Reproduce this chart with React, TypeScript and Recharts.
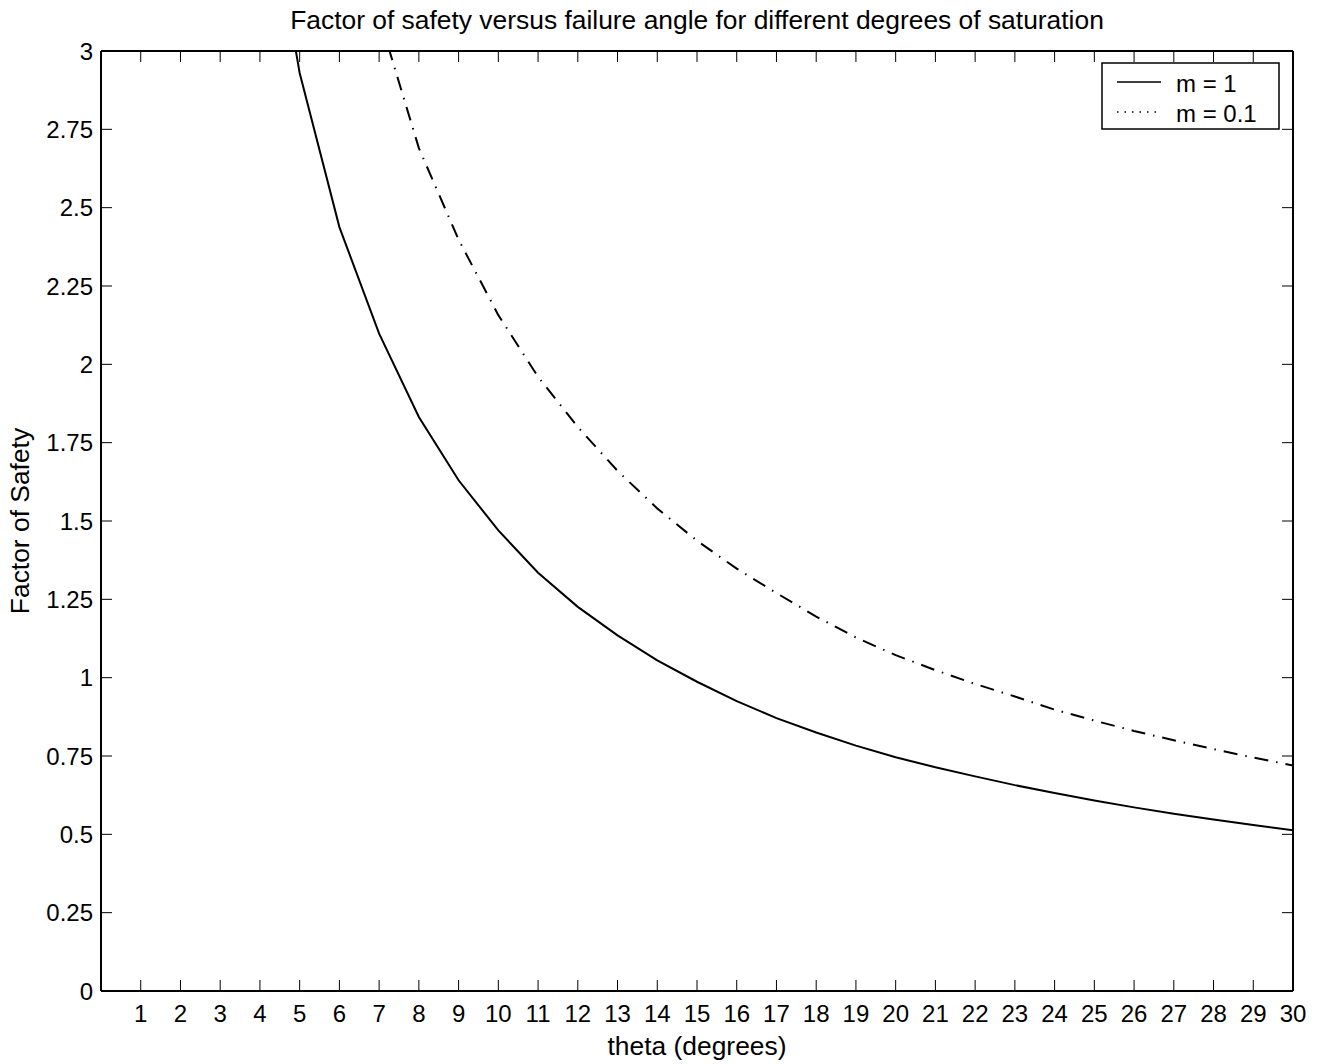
import React from 'react';
import { LineChart, Line, XAxis, YAxis } from 'recharts';

const titleText = 'Factor of safety versus failure angle for different degrees of saturation';
const xLabel = 'theta (degrees)';
const yLabel = 'Factor of Safety';

const thetaValues = [4, 5, 6, 7, 8, 9, 10, 11, 12, 13, 14, 15, 16, 17, 18, 19, 20, 21, 22, 23, 24, 25, 26, 27, 28, 29, 30];
const fsM1 = [3.66, 2.93, 2.438, 2.098, 1.832, 1.63, 1.47, 1.335, 1.226, 1.135, 1.055, 0.987, 0.925, 0.871, 0.825, 0.783, 0.746, 0.714, 0.685, 0.657, 0.632, 0.608, 0.586, 0.566, 0.547, 0.53, 0.513];
const fsM01 = [null, null, null, 3.11, 2.69, 2.398, 2.157, 1.96, 1.8, 1.66, 1.54, 1.437, 1.348, 1.27, 1.195, 1.128, 1.072, 1.024, 0.98, 0.94, 0.898, 0.863, 0.83, 0.8, 0.772, 0.745, 0.72];

const seriesNames = ['m = 1', 'm = 0.1'];
const xTicks = [1, 2, 3, 4, 5, 6, 7, 8, 9, 10, 11, 12, 13, 14, 15, 16, 17, 18, 19, 20, 21, 22, 23, 24, 25, 26, 27, 28, 29, 30];
const yTicks = [0, 0.25, 0.5, 0.75, 1, 1.25, 1.5, 1.75, 2, 2.25, 2.5, 2.75, 3];

const data = thetaValues.map((t, i) => ({ theta: t, m1: fsM1[i], m01: fsM01[i] }));

const FONT = 'Liberation Sans, Arial, Helvetica, sans-serif';
const TICK_LEN = 11;
const TICK_FONT = 24;
const LABEL_FONT = 26.4;

const BottomTick = (props: any) => {
  const { x, y, payload } = props;
  return (
    <g>
      <line x1={x} y1={y} x2={x} y2={y - TICK_LEN} stroke="#000" strokeWidth={1} />
      <text x={x} y={y + 31} textAnchor="middle" fontFamily={FONT} fontSize={TICK_FONT} fill="#000">
        {payload.value}
      </text>
    </g>
  );
};

const TopTick = (props: any) => {
  const { x, y } = props;
  return <line x1={x} y1={y} x2={x} y2={y + TICK_LEN} stroke="#000" strokeWidth={1} />;
};

const LeftTick = (props: any) => {
  const { x, y, payload } = props;
  return (
    <g>
      <line x1={x} y1={y} x2={x + TICK_LEN} y2={y} stroke="#000" strokeWidth={1} />
      <text x={x - 8} y={y + 8.5} textAnchor="end" fontFamily={FONT} fontSize={TICK_FONT} fill="#000">
        {payload.value}
      </text>
    </g>
  );
};

const RightTick = (props: any) => {
  const { x, y } = props;
  return <line x1={x} y1={y} x2={x - TICK_LEN} y2={y} stroke="#000" strokeWidth={1} />;
};

const XAxisLabel = (props: any) => {
  const vb = props.viewBox || {};
  return (
    <text x={vb.x + vb.width / 2} y={vb.y + 64} textAnchor="middle" fontFamily={FONT} fontSize={LABEL_FONT} fill="#000">
      {xLabel}
    </text>
  );
};

const YAxisLabel = (props: any) => {
  const vb = props.viewBox || {};
  const cx = vb.x + 29;
  const cy = vb.y + vb.height / 2;
  return (
    <text x={cx} y={cy} transform={`rotate(-90 ${cx} ${cy})`} textAnchor="middle" fontFamily={FONT} fontSize={LABEL_FONT} fill="#000">
      {yLabel}
    </text>
  );
};

const axisLine = { stroke: '#000', strokeWidth: 2 };

export default function App() {
  return (
    <div style={{ position: 'absolute', left: 0, top: 0, width: 1327, height: 1064, background: '#fff' }}>
      <LineChart width={1327} height={1064} data={data} margin={{ top: 50, right: 33, bottom: 0, left: 0 }}>
        <XAxis
          xAxisId="b"
          dataKey="theta"
          type="number"
          domain={[0, 30]}
          ticks={xTicks}
          interval={0}
          allowDataOverflow
          height={73}
          tickSize={0}
          tickMargin={0}
          tickLine={false}
          axisLine={axisLine}
          tick={<BottomTick />}
          label={<XAxisLabel />}
        />
        <XAxis
          xAxisId="t"
          orientation="top"
          dataKey="theta"
          type="number"
          domain={[0, 30]}
          ticks={xTicks}
          interval={0}
          allowDataOverflow
          height={1}
          tickSize={0}
          tickMargin={0}
          tickLine={false}
          axisLine={axisLine}
          tick={<TopTick />}
        />
        <YAxis
          yAxisId="l"
          type="number"
          domain={[0, 3]}
          ticks={yTicks}
          interval={0}
          allowDataOverflow
          width={101}
          tickSize={0}
          tickMargin={0}
          tickLine={false}
          axisLine={axisLine}
          tick={<LeftTick />}
          label={<YAxisLabel />}
        />
        <YAxis
          yAxisId="r"
          orientation="right"
          type="number"
          domain={[0, 3]}
          ticks={yTicks}
          interval={0}
          allowDataOverflow
          width={1}
          tickSize={0}
          tickMargin={0}
          tickLine={false}
          axisLine={axisLine}
          tick={<RightTick />}
        />
        <Line
          xAxisId="b"
          yAxisId="l"
          type="linear"
          dataKey="m1"
          name={seriesNames[0]}
          stroke="#000"
          strokeWidth={2}
          dot={false}
          activeDot={false}
          isAnimationActive={false}
        />
        <Line
          xAxisId="b"
          yAxisId="l"
          type="linear"
          dataKey="m01"
          name={seriesNames[1]}
          stroke="#000"
          strokeWidth={2}
          strokeDasharray="14 8 1.5 8"
          dot={false}
          activeDot={false}
          isAnimationActive={false}
        />
      </LineChart>
      <svg width={1327} height={1064} style={{ position: 'absolute', left: 0, top: 0, pointerEvents: 'none' }}>
        <text x={697} y={29} textAnchor="middle" fontFamily={FONT} fontSize={LABEL_FONT} fill="#000">
          {titleText}
        </text>
        <rect x={1102} y={63} width={177} height={66} fill="#fff" stroke="#000" strokeWidth={1.5} />
        <line x1={1117} y1={82} x2={1161} y2={82} stroke="#000" strokeWidth={1.5} />
        <text x={1176} y={92} fontFamily={FONT} fontSize={TICK_FONT} fill="#000">{seriesNames[0]}</text>
        <line x1={1117} y1={112} x2={1161} y2={112} stroke="#000" strokeWidth={1.5} strokeDasharray="1.5 6" />
        <text x={1176} y={122} fontFamily={FONT} fontSize={TICK_FONT} fill="#000">{seriesNames[1]}</text>
      </svg>
    </div>
  );
}
